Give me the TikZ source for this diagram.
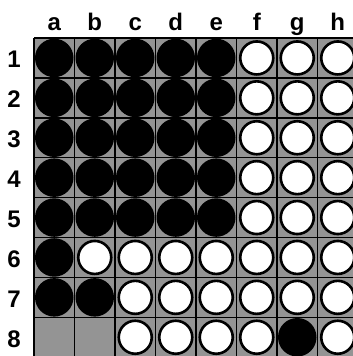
\documentclass[tikz,border=0pt]{standalone}
\usepackage{fontspec}
\setmainfont{Liberation Sans}
\usepackage{tikz}
\usetikzlibrary{positioning}
\tikzset{
  board/.style={fill=black!42},
  gridline/.style={draw=black,line width=1.4pt},
  discb/.style={circle,fill=black,minimum size=38.5pt,inner sep=0pt},
  discw/.style={circle,draw=black,fill=white,line width=2.6pt,minimum size=33pt,inner sep=0pt},
  lbl/.style={font=\fontsize{24}{24}\selectfont\bfseries,inner sep=0pt,anchor=base}
}

\begin{document}
\begin{tikzpicture}[x=40.5pt,y=-39.9pt]
\useasboundingbox (-34pt,38pt) rectangle (319pt,-318pt);
\fill[board] (0,0) rectangle (8,8);
\foreach \k in {0,...,8} {
  \draw[gridline] (\k,0) -- (\k,8);
  \draw[gridline] (0,\k) -- (8,\k);
}
% column and row labels
\foreach \c [count=\i] in {a,b,c,d,e,f,g,h}
  \node[lbl] (col-\c) at (\i-0.5,0) [yshift=8pt] {\c};
\foreach \r in {1,...,8}
  \node[lbl] (row-\r) at (0,\r-0.5) [xshift=-20pt,yshift=-10pt] {\r};
% discs (b = black, w = white, e = empty)
\foreach \r/\row in {1/{b,b,b,b,b,w,w,w},2/{b,b,b,b,b,w,w,w},3/{b,b,b,b,b,w,w,w},
    4/{b,b,b,b,b,w,w,w},5/{b,b,b,b,b,w,w,w},6/{b,w,w,w,w,w,w,w},
    7/{b,b,w,w,w,w,w,w},8/{e,e,w,w,w,w,b,w}} {
  \foreach \s [count=\i] in \row {
    \if\s e\else
      \node[disc\s] (d\i\r) at (\i-0.5,\r-0.5) {};
    \fi
  }
}
\end{tikzpicture}
\end{document}
